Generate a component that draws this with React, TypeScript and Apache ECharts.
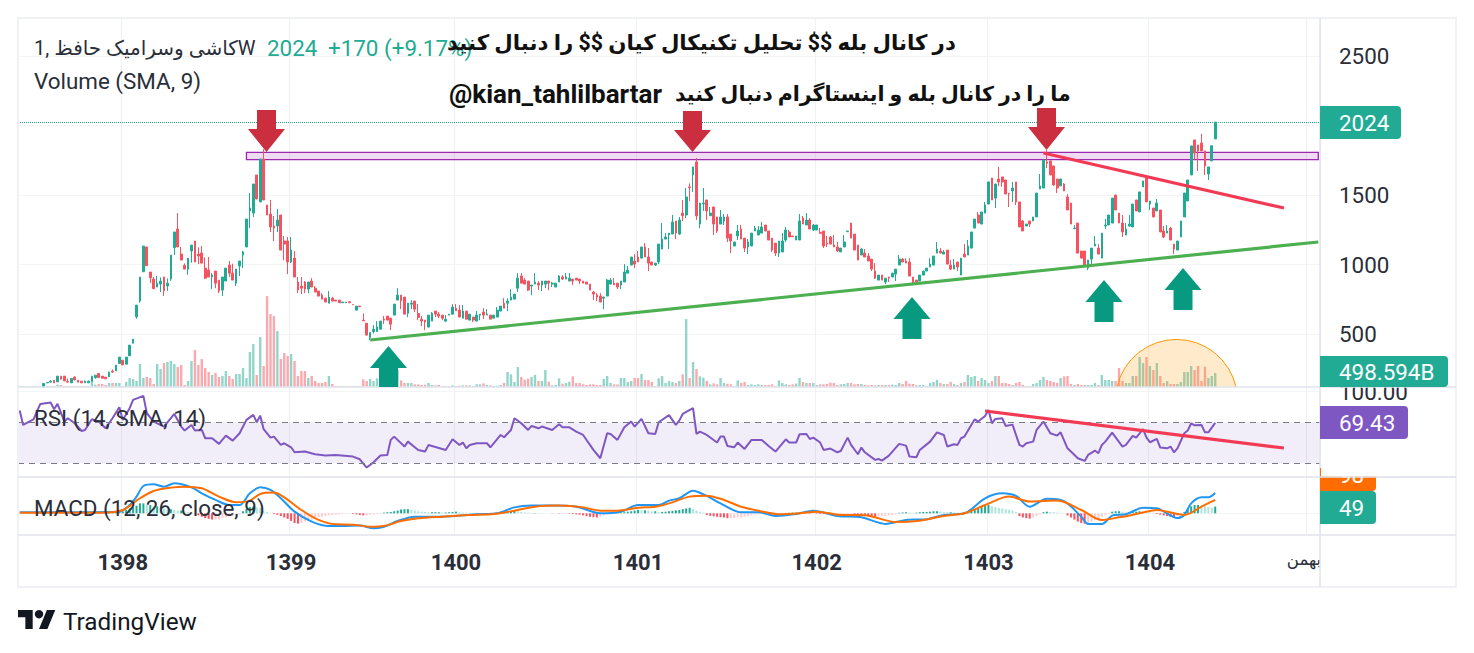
import React, { useEffect, useRef } from "react";
import * as echarts from "echarts";

const leadingSlots = 7;
const slotCount = 379;
const opens = [
120,149,154,168,156,197,197,158,149,190,168,161,149,149,158,187,216,197,190,192,
233,235,288,312,283,343,434,624,737,948,1126,946,895,838,859,910,845,895,1121,1255,
1075,994,967,1097,1169,1075,1082,974,960,910,953,888,816,881,996,938,866,989,1068,1126,
1385,1370,1644,1450,1759,1428,1363,1277,1277,1356,1169,1169,1018,1046,874,845,874,823,881,830,
809,780,758,722,758,744,744,725,725,732,713,672,701,600,578,475,518,518,535,607,
629,614,636,744,780,766,650,715,737,648,607,600,550,593,665,643,636,593,636,643,
686,672,614,665,600,622,593,636,658,636,636,614,622,665,722,722,744,751,830,917,
888,881,845,859,866,852,859,881,859,838,874,910,895,881,895,902,895,881,874,859,
802,780,773,758,773,859,866,866,852,874,938,996,1025,1054,1046,1126,1054,1018,996,1018,
1111,1183,1212,1219,1313,1219,1370,1356,1558,1644,1738,1291,1435,1464,1351,1414,1342,1291,1313,1342,
1219,1133,1205,1255,1190,1126,1133,1241,1212,1226,1284,1241,1190,1154,1082,1090,1176,1234,1205,1176,
1176,1334,1284,1320,1248,1248,1231,1241,1154,1198,1140,1126,1090,1126,1236,1298,1219,1140,1068,1082,
1061,1039,953,888,924,874,910,910,931,996,1039,1025,1018,910,888,881,924,953,982,996,
1082,1097,1075,1104,996,967,1018,924,1075,1068,1118,1262,1356,1291,1370,1435,1622,1478,1615,1630,
1608,1512,1529,1594,1450,1313,1277,1313,1313,1342,1543,1550,1738,1745,1709,1615,1565,1579,1486,1442,
1258,1298,1097,1097,974,1039,1133,1118,1046,1277,1284,1298,1500,1370,1298,1212,1277,1270,1464,1378,
1558,1630,1435,1406,1385,1392,1241,1226,1262,1147,1104,1198,1342,1457,1644,1896,1860,1874,1817,1651,1745,1903];
const closes = [
144,151,161,149,197,175,163,154,180,170,154,149,161,161,197,204,187,182,178,226,
226,276,334,278,334,420,463,708,910,1133,991,905,826,866,881,811,866,1068,1234,1126,
1032,967,1046,1140,1018,1061,1010,902,910,924,866,809,910,974,938,888,967,1025,1090,1327,
1406,1579,1471,1759,1464,1356,1270,1262,1320,1104,1147,1018,1104,910,816,830,823,874,838,802,
773,751,730,766,737,737,725,730,730,725,710,701,696,595,492,511,535,552,593,600,
600,571,715,780,739,643,722,722,679,619,593,586,636,650,643,629,614,607,643,694,
667,622,665,607,643,600,636,643,636,643,607,636,672,701,686,737,766,787,902,866,
859,816,852,874,852,881,881,866,866,866,917,895,910,902,881,888,881,866,859,816,
787,766,730,766,888,888,854,838,881,946,960,1054,1003,1018,1126,1054,1010,996,1010,1147,
1183,1198,1226,1306,1226,1320,1351,1486,1553,1702,1349,1442,1442,1385,1370,1291,1241,1342,1342,1190,
1169,1162,1241,1183,1118,1162,1226,1262,1248,1270,1241,1176,1104,1082,1169,1169,1248,1198,1200,1205,
1313,1291,1320,1255,1284,1284,1224,1133,1147,1147,1126,1097,1118,1162,1241,1190,1104,1032,1111,1054,
1025,967,902,924,888,902,902,938,967,1039,1018,1010,917,866,874,924,953,974,1003,1061,
1111,1082,1090,1003,967,996,982,1046,1054,1133,1234,1327,1298,1378,1428,1594,1464,1579,1594,1594,
1507,1507,1550,1450,1270,1241,1291,1291,1342,1514,1565,1752,1728,1644,1572,1550,1615,1529,1392,1291,
1262,1082,1046,996,1032,1118,1147,1075,1226,1284,1356,1478,1392,1298,1234,1255,1291,1435,1385,1522,
1601,1450,1457,1342,1442,1234,1198,1241,1176,1111,1169,1313,1514,1608,1853,1802,1817,1817,1709,1702,1854,2024];
const highs = [
144,151,168,168,197,197,197,180,180,196,168,161,165,165,197,204,216,197,190,230,
245,276,334,312,334,420,463,708,910,1133,1126,946,910,917,907,910,900,1068,1234,1370,
1126,1008,1046,1140,1169,1123,1133,1051,1054,938,953,888,910,974,1025,1006,967,1025,1099,1327,
1514,1579,1644,1759,1829,1428,1464,1349,1399,1356,1205,1198,1198,1097,910,910,881,874,902,845,
809,794,758,809,768,744,744,730,730,732,713,701,701,648,578,511,564,593,593,629,
629,614,715,830,780,766,722,744,737,715,629,600,636,658,665,658,636,636,643,715,
715,708,708,665,643,622,665,643,686,679,636,636,694,701,758,758,823,787,938,938,
902,881,852,938,881,881,881,881,874,866,924,924,938,938,895,902,895,881,874,859,
809,794,794,766,895,902,902,866,881,1003,989,1054,1075,1097,1126,1154,1118,1018,1010,1147,
1298,1226,1226,1356,1313,1342,1464,1550,1584,1702,1766,1442,1550,1464,1414,1414,1342,1392,1363,1363,
1219,1162,1284,1284,1190,1183,1226,1277,1277,1306,1284,1241,1190,1154,1169,1226,1270,1248,1205,1205,
1363,1349,1370,1334,1291,1284,1262,1241,1205,1205,1212,1162,1118,1212,1241,1298,1219,1140,1118,1111,
1082,1039,1010,924,924,902,910,938,967,1068,1046,1046,1046,910,888,924,953,974,1046,1061,
1162,1118,1104,1104,1032,1039,1018,1046,1147,1176,1234,1327,1378,1378,1450,1594,1622,1579,1702,1630,
1608,1512,1594,1594,1450,1320,1291,1313,1342,1514,1651,1752,1824,1745,1709,1615,1615,1586,1507,1442,
1284,1298,1097,1097,1032,1118,1205,1147,1226,1327,1356,1478,1500,1370,1356,1298,1356,1435,1464,1522,
1601,1637,1457,1406,1471,1392,1277,1284,1270,1147,1169,1313,1514,1608,1853,1896,1860,1939,1817,1702,1854,2024];
const lows = [
120,149,154,149,156,175,163,154,149,170,154,149,149,149,158,178,187,182,178,192,
221,235,288,278,283,343,434,610,725,948,991,866,826,838,802,775,811,883,1068,1126,
1032,967,926,1013,1018,1003,1010,895,910,823,830,794,773,881,910,888,845,917,974,1126,
1262,1342,1471,1450,1464,1356,1234,1169,1234,1104,1030,931,1010,910,794,787,794,794,838,802,
773,751,730,722,737,737,725,725,725,725,710,672,696,595,492,456,504,516,535,571,
600,528,636,744,679,643,622,679,658,600,557,528,550,593,622,614,600,586,636,643,
667,622,614,607,600,586,593,600,607,636,607,614,622,665,686,665,744,751,802,866,
859,809,780,859,816,809,830,816,838,838,874,888,895,881,852,888,859,866,859,816,
744,737,730,679,773,859,854,823,823,874,938,996,974,1018,1046,1054,953,996,989,1003,
1111,1183,1111,1219,1183,1212,1313,1334,1457,1522,1320,1262,1385,1320,1351,1212,1226,1291,1284,1162,
1082,1133,1176,1183,1090,1075,1133,1241,1212,1226,1241,1176,1090,1061,1054,1090,1162,1198,1200,1176,
1176,1291,1284,1255,1241,1248,1224,1118,1126,1147,1126,1090,1090,1126,1236,1190,1104,1032,1068,1054,
1025,953,895,888,888,859,874,910,881,996,1018,1010,917,866,874,881,924,953,982,996,
1082,1082,1075,1003,960,967,953,924,1054,1068,1118,1262,1298,1291,1370,1435,1464,1406,1565,1558,
1507,1414,1450,1428,1270,1241,1277,1270,1313,1342,1543,1550,1694,1644,1565,1514,1565,1529,1392,1291,
1258,1082,1046,996,960,1003,1133,1075,1046,1255,1284,1298,1392,1298,1198,1212,1270,1270,1385,1378,
1558,1450,1392,1342,1385,1234,1190,1226,1176,1075,1104,1198,1342,1457,1644,1752,1673,1817,1644,1608,1745,1903];
const volumes = [
24,24,36,24,36,24,24,
72,36,36,36,84,72,36,36,36,36,36,36,36,36,180,84,108,108,72,144,144,144,144,36,
180,324,288,216,828,324,360,324,108,828,648,864,900,936,828,720,792,72,216,936,
1332,792,1008,684,540,432,504,360,396,576,396,288,468,468,684,324,1260,1548,432,1800,
756,3276,2628,2556,2016,1008,1224,1116,1188,936,396,576,576,324,396,216,144,144,180,396,
108,36,36,36,36,36,36,36,36,276,216,288,216,312,144,144,144,216,276,636,
240,144,144,144,96,96,72,84,144,72,60,72,36,36,36,60,36,48,60,60,
60,36,96,96,132,72,60,36,48,72,144,540,456,180,720,360,264,300,360,432,
216,216,612,192,60,72,312,120,144,192,384,144,144,96,72,96,96,72,72,288,
396,144,96,96,324,324,180,216,324,324,468,252,252,180,36,312,396,144,216,180,
144,216,456,2448,324,900,648,384,336,216,96,132,96,324,144,120,96,36,240,144,
180,72,96,72,96,72,72,72,96,36,240,144,96,72,96,120,324,180,144,144,
144,72,96,96,108,156,144,72,96,108,144,144,96,108,108,72,60,72,60,72,
72,72,72,84,72,144,108,216,120,108,60,72,72,36,144,180,252,144,108,108,
180,108,72,144,180,432,360,396,216,324,252,144,216,396,396,144,144,108,72,144,
180,72,36,36,108,144,252,360,252,216,180,144,324,384,396,108,72,108,72,72,
72,72,144,72,432,252,252,216,216,684,216,144,144,396,396,1080,864,1080,756,612,
864,396,144,216,108,108,108,180,540,540,756,612,756,216,732,324,396,504];
const rsiSlots = [
0,1,4,6,9,10,11,13,14,16,18,19,21,23,25,27,29,30,32,33,36,37,39,42,45,47,48,50,51,53,54,56,58,60,62,64,66,68,69,70,71,73,74,76,77,79,80,83,86,89,92,97,99,101,103,105,107,108,109,112,113,116,118,119,124,126,128,129,130,131,133,136,137,140,141,143,144,146,148,149,151,152,155,157,158,160,162,164,167,169,171,172,174,176,178,179,181,183,185,186,189,
191,192,193,196,197,198,200,203,204,205,206,208,209,211,213,216,218,220,223,224,226,227,229,230,231,233,234,236,238,239,241,242,244,245,246,249,250,251,253,256,258,259,261,262,265,267,269,270,272,273,274,275,277,278,279,281,282,283,284,286,287,289,291,292,293,295,296,298,300,302,303,305,306,308,310,311,313,314,315,316,318,321,322,324,325,327,328,329,331,332,334,335,336,337,339,340,341,342,344,345,346,348];
const rsiValues = [
81.4,67.4,72.9,87.9,89.2,82.7,87.9,70.7,73.9,69,61.5,62.5,72.9,70.7,64.1,73.9,84.6,72.3,83.7,91.8,95.7,78.8,70.7,65.8,78.1,65.8,61.9,67.4,61.9,62.5,54.4,54.4,48.9,57,52.1,59.3,72.3,77.2,70,76.5,63.2,55,56,47.9,49.5,45.6,40.7,41.4,38.8,37.5,38.1,36.5,33.9,25.8,31,37.5,38.1,52.8,56,46.3,51.1,43,41.4,47.9,43,53.4,47.9,50.2,44.6,47.9,49.5,49.5,45.6,57.6,55.4,62.5,73.9,69,62.5,66.4,64.1,65.8,62.5,68,65.1,65.1,60.9,57.6,43,34.9,59.3,58.6,52.8,65.1,70.7,65.8,73.3,59.3,58.6,70,77,
67.4,71.6,78.1,83.7,58.6,60.9,57.6,50.2,56,56,46.9,45.6,50.2,44,52.8,52.8,46.9,41.4,53.4,50.2,50.2,58.3,58.6,53.7,55,50.2,43,44.3,40.7,42,55,47.9,38.8,45.3,40.7,33.3,34.2,32.6,37.5,48.9,47.2,36.5,35.9,43,51.1,60.2,57.6,46.3,48.5,47.9,54.4,56,67.4,72.9,70.7,76.2,82,69,73.3,73.9,66.4,67.7,47.9,46.3,49.5,51.1,62.5,70.7,59.3,57,60.2,44.6,41.4,34.9,32.3,38.1,42.4,39.8,47.9,51.1,59.9,46.3,47.9,56.7,55,63.2,55,50.5,53.7,45.3,44.6,46.3,40.7,44.6,59.3,61.9,69,67,67.4,60.2,60.2,69.43];
const macdSlots = [0,29,32,34,36,39,42,45,50,53,57,61,64,67,70,73,76,80,85,90,94,99,103,106,110,115,121,127,133,139,144,149,155,162,169,175,180,186,189,192,196,200,204,210,215,220,226,231,238,245,252,258,264,269,275,281,286,290,294,299,304,309,311,315,318,322,327,331,337,339,341,344,346,348];
const macdValues = [7,12,60,121,198,210,193,217,188,145,97,60,60,145,188,169,109,12,-60,-92,-92,-89,-109,-97,-56,-24,-24,-19,-7,0,43,56,56,48,0,12,60,60,92,109,164,126,72,7,7,-19,-5,19,-19,-29,-77,-48,-43,-12,0,109,145,126,48,106,89,-24,-77,-77,-17,-7,41,36,-34,-12,72,116,116,147];
const signalSlots = [0,24,30,35,39,44,48,53,58,63,67,70,74,77,82,87,92,97,102,106,111,116,123,131,138,144,150,157,164,169,174,180,185,189,195,200,205,210,215,221,227,232,239,246,255,262,269,275,281,288,294,302,309,315,320,326,331,339,344,348];
const signalValues = [5,5,24,109,162,186,193,181,121,80,92,140,150,116,24,-48,-80,-82,-97,-92,-56,-36,-24,-12,-5,19,48,56,43,19,19,41,48,72,121,128,97,48,19,-7,0,12,-12,-14,-63,-53,-19,0,60,121,85,92,24,-48,-29,0,24,-12,48,98];
const histValues = [
0,0,0,0,0,1,1,1,0,0,0,0,0,0,0,0,0,0,0,0,-1,-2,-2,-3,-2,0,3,5,8,10,
12,25,35,45,55,72,72,60,60,50,50,40,35,30,30,25,20,20,15,10,5,0,-15,-25,-35,-40,-45,-45,-45,-35,
-30,-25,-20,-15,-10,15,30,45,50,45,40,15,10,0,-5,-10,-20,-30,-40,-55,-70,-75,-70,-60,-50,-45,-35,-30,-25,-20,
-15,-12,-10,-8,-5,-3,-3,-5,-8,-12,-15,-15,-10,-8,-5,-3,5,8,10,15,20,28,30,30,25,20,15,12,10,8,
8,8,8,6,6,8,10,12,8,6,5,4,3,3,2,2,1,1,1,2,3,5,10,15,20,15,10,6,4,2,
2,1,1,0,0,-1,-1,-2,-2,-2,-3,-5,-8,-10,-15,-20,-25,-28,-30,-25,-15,-8,-5,-3,2,5,8,12,15,20,
25,22,22,20,15,15,10,10,12,15,18,22,25,30,35,40,30,20,12,5,-12,-18,-22,-25,-28,-30,-35,-35,-35,-30,
-30,-25,-20,-15,-10,-8,-5,-3,-5,-8,-6,-4,2,3,4,5,5,4,3,2,-3,-3,-4,-5,-5,-6,-6,-8,-8,-8,
-8,-8,-8,-12,-15,-18,-20,-22,-24,-25,-22,-20,-18,-15,-12,-8,4,6,8,6,4,5,8,10,10,12,15,15,12,10,
8,8,6,5,4,10,15,20,25,35,45,55,60,50,45,40,35,30,25,20,10,-20,-30,-35,-38,-30,-20,-8,8,12,
10,8,5,3,2,-15,-30,-45,-60,-70,-75,-70,-60,-50,-40,-25,-12,-5,12,15,15,12,8,8,10,12,15,10,8,6,
3,-5,-10,-15,-20,-25,-30,-20,-10,10,30,50,60,60,55,50,45,40,49];
const yearSlots = [30, 79, 127, 180, 232, 282, 329, 375];
const yearLabels = ["1398", "1399", "1400", "1401", "1402", "1403", "1404", "بهمن"];
const priceTicks = [500, 1000, 1500, 2000, 2500];
const priceLabels = [500, 1000, 1500, 2500];
const lastPrice = 2024;
const zoneTop = 1807;
const zoneBottom = 1754;
const supportSlots = [102, 378];
const supportPrices = [457, 1162];
const resistSlots = [298, 368];
const resistPrices = [1802, 1406];
const rsiTrendSlots = [281, 368];
const rsiTrendValues = [81, 44.9];

const title1 = "در کانال بله $$ تحلیل تکنیکال کیان $$ را دنبال کنید";
const title2Handle = "@kian_tahlilbartar";
const title2 = "ما را در کانال بله و اینستاگرام دنبال کنید";
const legendName = "1, کاشی وسرامیک حافظW";

const FONT = "Roboto, 'DejaVu Sans', sans-serif";
const UP = "#22ab94";
const DOWN = "#f7525f";

echarts.graphic.registerShape("tvLogo", echarts.graphic.extendPath("M14 22H7V11H0V4h14v18zM28 22h-8l7.5-18h8L28 22z", {}));
echarts.graphic.registerShape("dome", echarts.graphic.extendPath("M1117 387A61 61 0 0 1 1236 387", {}));

const pairs = (xs: number[], ys: number[]) => xs.map((x, i) => [x, ys[i]]);

function downArrow(cx: number, top: number, neck: number, tip: number) {
  return { type: "polygon", z: 20, silent: true, shape: { points: [[cx - 9.5, top], [cx + 9.5, top], [cx + 9.5, neck], [cx + 18.5, neck], [cx, tip], [cx - 18.5, neck], [cx - 9.5, neck]] }, style: { fill: "#cb2e3e" } };
}
function upArrow(cx: number, tip: number, neck: number, bottom: number) {
  return { type: "polygon", z: 20, silent: true, shape: { points: [[cx, tip], [cx + 18.5, neck], [cx + 9.5, neck], [cx + 9.5, bottom], [cx - 9.5, bottom], [cx - 9.5, neck], [cx - 18.5, neck]] }, style: { fill: "#089a80" } };
}
function label(text: string, x: number, y: number, fill: string, size = 22.4, weight = "normal", z = 30) {
  return { type: "text", z, silent: true, style: { text, x, y, fill, font: `${weight} ${size}px ${FONT}`, textAlign: "left", textVerticalAlign: "middle" } };
}
function tag(x: number, y: number, w: number, h: number, fill: string, z: number) {
  return { type: "rect", z, silent: true, shape: { x, y, width: w, height: h, r: [0, 4, 4, 0] }, style: { fill } };
}
function sepLine(x1: number, y1: number, x2: number, y2: number, stroke: string, z = 10, width = 1.4) {
  return { type: "line", z, silent: true, shape: { x1, y1, x2, y2 }, style: { stroke, lineWidth: width } };
}

function buildOption() {
  const slots = Array.from({ length: slotCount }, (_, i) => String(i));
  const blanks = Array.from({ length: leadingSlots }, () => ["-", "-", "-", "-"]);
  const candles = blanks.concat(opens.map((o, i) => [o, closes[i], lows[i], highs[i]]) as any);
  const volumeData = volumes.map((v, i) => {
    const k = i - leadingSlots;
    const up = k < 0 ? true : closes[k] >= opens[k];
    return { value: v, itemStyle: { color: up ? "#92d5c9" : "#fba9af" } };
  });
  const histData = histValues.map((v, i) => {
    const prev = i > 0 ? histValues[i - 1] : 0;
    const color = v >= 0 ? (v >= prev ? "#22ab94" : "#ace5dc") : v < prev ? "#f7525f" : "#fccbcd";
    return { value: v, itemStyle: { color } };
  });
  const splitX = { show: true, interval: (i: number) => yearSlots.includes(i), lineStyle: { color: "#f0f1f4", width: 1.2 } };
  const baseX = { type: "category", data: slots, boundaryGap: true, axisLine: { show: false }, axisTick: { show: false }, axisLabel: { show: false }, splitLine: splitX };
  const gridLine = { lineStyle: { color: "#f3f4f6", width: 1.2 } };

  return {
    animation: false,
    backgroundColor: "#ffffff",
    grid: [
      { left: 18, top: 18, width: 1302, height: 369 },
      { left: 18, top: 387, width: 1302, height: 90 },
      { left: 18, top: 477, width: 1302, height: 58 },
    ],
    xAxis: [
      { ...baseX, gridIndex: 0 },
      { ...baseX, gridIndex: 1 },
      {
        ...baseX,
        gridIndex: 2,
        axisLabel: {
          show: true,
          interval: (i: number) => yearSlots.includes(i),
          margin: 16,
          formatter: (v: string) => {
            const k = yearSlots.indexOf(Number(v));
            if (k < 0) return "";
            return k === yearLabels.length - 1 ? `{month|${yearLabels[k]}}` : `{year|${yearLabels[k]}}`;
          },
          rich: {
            year: { fontFamily: FONT, fontWeight: "bold", fontSize: 22, color: "#2a2e39" },
            month: { fontFamily: FONT, fontSize: 16.5, color: "#2a2e39", padding: [0, 8, 0, 0] },
          },
        },
      },
    ],
    yAxis: [
      {
        gridIndex: 0, type: "value", position: "right", min: 119, max: 2773,
        axisLine: { show: false },
        axisTick: { show: false, customValues: priceTicks },
        axisLabel: { show: true, customValues: priceLabels, margin: 19, color: "#2a2e39", fontFamily: FONT, fontSize: 22.4, formatter: (v: number) => String(v) },
        splitLine: { show: true, ...gridLine },
      },
      { gridIndex: 0, type: "value", min: 0, max: 13300, show: false, splitLine: { show: false } },
      {
        gridIndex: 1, type: "value", position: "right", min: 16.6, max: 104.4,
        axisLine: { show: false },
        axisTick: { show: false, customValues: [100] },
        axisLabel: { show: true, customValues: [100], margin: 19, color: "#2a2e39", fontFamily: FONT, fontSize: 22.4, formatter: (v: number) => v.toFixed(2) },
        splitLine: { show: true, ...gridLine },
      },
      {
        gridIndex: 2, type: "value", position: "right", min: -157, max: 263,
        axisLine: { show: false },
        axisTick: { show: false, customValues: [0] },
        axisLabel: { show: false },
        splitLine: { show: true, ...gridLine },
      },
    ],
    series: [
      { name: "Volume", type: "bar", xAxisIndex: 0, yAxisIndex: 1, barWidth: 2.4, data: volumeData, z: 1, silent: true },
      {
        name: "Price", type: "candlestick", xAxisIndex: 0, yAxisIndex: 0, barWidth: 2.2, data: candles, z: 3, silent: true,
        itemStyle: { color: UP, color0: DOWN, borderColor: UP, borderColor0: DOWN, borderWidth: 1 },
        markLine: { silent: true, symbol: "none", label: { show: false }, lineStyle: { color: UP, type: "dotted", width: 1 }, data: [{ yAxis: lastPrice }] },
        markArea: {
          silent: true,
          itemStyle: { color: "rgba(156,39,176,0.16)", borderColor: "#9c27b0", borderWidth: 1.3 },
          data: [[{ xAxis: 66, yAxis: zoneTop }, { xAxis: 378, yAxis: zoneBottom }]],
        },
      },
      { name: "Support", type: "line", xAxisIndex: 0, yAxisIndex: 0, data: pairs(supportSlots, supportPrices), symbol: "none", silent: true, z: 5, lineStyle: { color: "#4caf50", width: 3.2 } },
      { name: "Resistance", type: "line", xAxisIndex: 0, yAxisIndex: 0, data: pairs(resistSlots, resistPrices), symbol: "none", silent: true, z: 5, lineStyle: { color: "#f23a55", width: 3.2 } },
      {
        name: "RSI", type: "line", xAxisIndex: 1, yAxisIndex: 2, data: pairs(rsiSlots, rsiValues), symbol: "none", silent: true, z: 3, lineStyle: { color: "#7e57c2", width: 2 },
        markArea: { silent: true, itemStyle: { color: "rgba(126,87,194,0.1)" }, data: [[{ yAxis: 70 }, { yAxis: 30 }]] },
        markLine: { silent: true, symbol: "none", label: { show: false }, lineStyle: { color: "#787b86", type: [6, 5], width: 1 }, data: [{ yAxis: 70 }, { yAxis: 30 }] },
      },
      { name: "RSI trend", type: "line", xAxisIndex: 1, yAxisIndex: 2, data: pairs(rsiTrendSlots, rsiTrendValues), symbol: "none", silent: true, z: 5, lineStyle: { color: "#f23a55", width: 3.2 } },
      { name: "Histogram", type: "bar", xAxisIndex: 2, yAxisIndex: 3, barWidth: 2, data: histData, z: 1, silent: true },
      { name: "MACD", type: "line", xAxisIndex: 2, yAxisIndex: 3, data: pairs(macdSlots, macdValues), symbol: "none", smooth: 0.3, silent: true, z: 3, lineStyle: { color: "#2196f3", width: 2 } },
      { name: "Signal", type: "line", xAxisIndex: 2, yAxisIndex: 3, data: pairs(signalSlots, signalValues), symbol: "none", smooth: 0.3, silent: true, z: 4, lineStyle: { color: "#ff6d00", width: 2 } },
    ],
    graphic: [
      { type: "rect", z: 9, silent: true, shape: { x: 18, y: 18, width: 1438, height: 569 }, style: { fill: "none", stroke: "#f0f1f6", lineWidth: 2 } },
      sepLine(18, 387, 1456, 387, "#e0e3eb"),
      sepLine(18, 477, 1456, 477, "#e0e3eb"),
      sepLine(18, 535, 1456, 535, "#e0e3eb"),
      sepLine(1320, 18, 1320, 587, "#e0e3eb"),
      { type: "dome", z: 6, silent: true, x: 0, y: 0, style: { fill: "rgba(255,152,0,0.2)", stroke: "#ff9800", lineWidth: 1 } },
      downArrow(266.5, 110, 129, 152),
      downArrow(692.5, 111, 130, 152),
      downArrow(1046.5, 108, 127, 150),
      upArrow(388.5, 346, 368, 387),
      upArrow(912, 297, 319, 339),
      upArrow(1104, 280, 302, 322),
      upArrow(1183, 268, 290, 310),
      label(legendName, 34, 48, "#2a2e39", 20),
      label("2024", 267, 48, UP),
      label("+170 (+9.17%)", 328, 48, UP),
      label("Volume (SMA, 9)", 34, 81, "#2a2e39"),
      label("RSI (14, SMA, 14)", 34, 418, "#2a2e39"),
      label("MACD (12, 26, close, 9)", 34, 508, "#2a2e39"),
      label(title1, 447, 42, "#111111", 21.3, "bold", 31),
      label(title2Handle, 449, 94, "#111111", 26, "bold", 31),
      label(title2, 675, 94, "#111111", 20.5, "bold", 31),
      tag(1320, 106, 81, 33, UP, 40),
      label("2024", 1339, 123, "#ffffff", 22.4, "normal", 41),
      tag(1320, 356, 128, 31, UP, 40),
      label("498.594B", 1339, 372, "#ffffff", 22.4, "normal", 41),
      tag(1320, 406, 88, 33, "#7e57c2", 40),
      label("69.43", 1339, 423, "#ffffff", 22.4, "normal", 41),
      tag(1320, 468, 56, 23, "#ff6d00", 40),
      label("98", 1339, 475, "#ffffff", 22.4, "normal", 41),
      { type: "rect", z: 42, silent: true, shape: { x: 1321, y: 460, width: 80, height: 16.4 }, style: { fill: "#ffffff" } },
      sepLine(1320, 477, 1456, 477, "#e0e3eb", 43),
      tag(1320, 491, 56, 33, UP, 44),
      label("49", 1339, 508, "#ffffff", 22.4, "normal", 45),
      { type: "tvLogo", z: 30, silent: true, x: 18, y: 605.8, scaleX: 1.05, scaleY: 1.05, style: { fill: "#131722" } },
      { type: "circle", z: 30, silent: true, shape: { cx: 39, cy: 614.2, r: 4.2 }, style: { fill: "#131722" } },
      label("TradingView", 63, 621, "#131722", 24.3),
    ],
  };
}

export default function App() {
  const ref = useRef<HTMLDivElement | null>(null);
  useEffect(() => {
    const chart = echarts.init(ref.current as HTMLDivElement, undefined, { renderer: "svg" });
    chart.setOption(buildOption() as any);
    return () => chart.dispose();
  }, []);
  return <div ref={ref} style={{ position: "absolute", left: 0, top: 0, width: 1474, height: 653, background: "#fff" }} />;
}
